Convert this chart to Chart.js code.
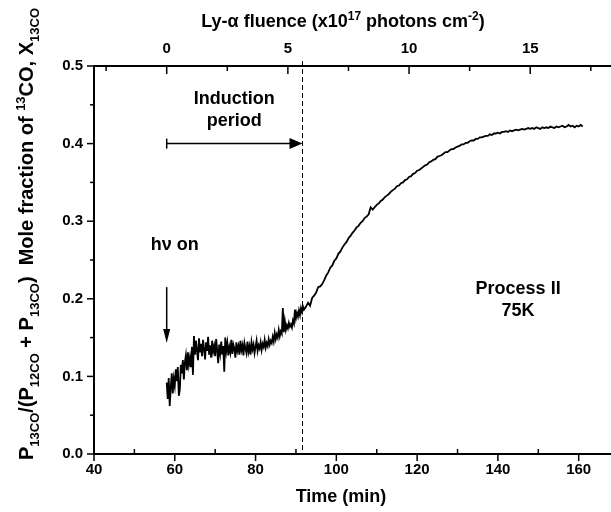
<!DOCTYPE html>
<html><head><meta charset="utf-8">
<script src="https://cdn.jsdelivr.net/npm/chart.js@4/dist/chart.umd.min.js"></script>
<style>html,body{margin:0;padding:0;background:#fff;}#wrap{width:611px;height:512px;}</style>
</head><body><div id="wrap"><canvas id="c" width="611" height="512"></canvas></div>
<script>
// ---- data ----
const timeMin = [
58,58.25,58.5,58.75,59,59.25,59.5,59.75,60,60.25,60.5,60.75,61,61.25,61.5,61.75,62,62.25,62.5,62.75,
63,63.25,63.5,63.75,64,64.25,64.5,64.75,65,65.25,65.5,65.75,66,66.25,66.5,66.75,67,67.25,67.5,67.75,
68,68.25,68.5,68.75,69,69.25,69.5,69.75,70,70.25,70.5,70.75,71,71.25,71.5,71.75,72,72.25,72.5,72.75,
73,73.25,73.5,73.75,74,74.25,74.5,74.75,75,75.25,75.5,75.75,76,76.25,76.5,76.75,77,77.25,77.5,77.75,
78,78.25,78.5,78.75,79,79.25,79.5,79.75,80,80.25,80.5,80.75,81,81.25,81.5,81.75,82,82.25,82.5,82.75,
83,83.25,83.5,83.75,84,84.25,84.5,84.75,85,85.25,85.5,85.75,86,86.25,86.5,86.75,87,87.25,87.5,87.75,
88,88.25,88.5,88.75,89,89.25,89.5,89.75,90,90.25,90.5,90.75,91,91.25,91.5,91.75,92,
92.5,93,93.5,94,94.5,95,95.5,96,96.5,97,97.5,98,98.5,99,99.5,100,100.5,101,101.5,102,
102.5,103,103.5,104,104.5,105,105.5,106,106.5,107,107.5,108,108.5,109,109.5,110,110.5,111,111.5,112,
112.5,113,113.5,114,114.5,115,115.5,116,116.5,117,117.5,118,118.5,119,119.5,120,120.5,121,121.5,122,
122.5,123,123.5,124,124.5,125,125.5,126,126.5,127,127.5,128,128.5,129,129.5,130,130.5,131,131.5,132,
132.5,133,133.5,134,134.5,135,135.5,136,136.5,137,137.5,138,138.5,139,139.5,140,140.5,141,141.5,142,
142.5,143,143.5,144,144.5,145,145.5,146,146.5,147,147.5,148,148.5,149,149.5,150,150.5,151,151.5,152,
152.5,153,153.5,154,154.5,155,155.5,156,156.5,157,157.5,158,158.5,159,159.5,160,160.5,161
];
const fraction13CO = [
0.092,0.071,0.098,0.062,0.085,0.104,0.078,0.097,0.088,0.109,0.094,0.112,0.075,0.083,0.115,0.104,0.121,0.096,0.118,0.127,
0.108,0.131,0.115,0.124,0.112,0.138,0.102,0.152,0.128,0.146,0.133,0.121,0.149,0.131,0.142,0.126,0.147,0.135,0.122,0.144,
0.133,0.151,0.128,0.140,0.124,0.146,0.132,0.139,0.126,0.148,0.134,0.117,0.141,0.130,0.145,0.128,0.139,0.106,0.150,0.133,
0.143,0.127,0.138,0.131,0.147,0.129,0.141,0.136,0.124,0.144,0.133,0.139,0.128,0.146,0.134,0.140,0.127,0.143,0.136,0.130,
0.145,0.132,0.139,0.128,0.144,0.135,0.141,0.130,0.138,0.146,0.133,0.140,0.136,0.144,0.134,0.142,0.138,0.147,0.137,0.143,
0.139,0.148,0.141,0.146,0.143,0.151,0.145,0.156,0.148,0.154,0.150,0.160,0.152,0.158,0.155,0.188,0.157,0.171,0.160,0.166,
0.162,0.169,0.164,0.167,0.163,0.172,0.168,0.186,0.175,0.182,0.177,0.185,0.179,0.188,0.183,0.190,0.186,
0.190,0.195,0.191,0.201,0.204,0.208,0.215,0.216,0.219,0.224,0.230,0.234,0.240,0.243,0.249,0.252,0.258,0.261,0.266,0.270,
0.273,0.278,0.281,0.285,0.288,0.292,0.294,0.298,0.300,0.304,0.306,0.309,0.318,0.315,0.318,0.321,0.323,0.326,0.328,0.331,
0.333,0.335,0.338,0.340,0.342,0.345,0.346,0.349,0.350,0.353,0.354,0.357,0.358,0.361,0.362,0.365,0.366,0.368,0.370,0.372,
0.373,0.376,0.377,0.379,0.380,0.383,0.384,0.385,0.387,0.389,0.389,0.391,0.393,0.393,0.395,0.396,0.397,0.399,0.399,0.401,
0.401,0.403,0.404,0.404,0.406,0.406,0.408,0.408,0.409,0.410,0.410,0.412,0.411,0.413,0.413,0.414,0.413,0.415,0.415,0.416,
0.415,0.417,0.416,0.417,0.418,0.417,0.418,0.419,0.418,0.419,0.420,0.419,0.420,0.419,0.421,0.420,0.419,0.421,0.420,0.421,
0.420,0.422,0.421,0.420,0.422,0.421,0.422,0.423,0.421,0.422,0.424,0.422,0.423,0.421,0.423,0.422,0.424,0.422
];
const timeTicks = [40,60,80,100,120,140,160];
const timeMinorTicks = [50,70,90,110,130,150];
const fluenceTicks = [0,5,10,15];
const fluenceMinorTicks = [-2.5,2.5,7.5,12.5,17.5];
const fractionTicks = [0,0.1,0.2,0.3,0.4,0.5];
const fractionMinorTicks = [0.05,0.15,0.25,0.35,0.45];
const hvOnTime = 58;            // fluence zero
const minPerFluenceUnit = 6;    // 5 fluence units = 30 min
const inductionEndTime = 91.5;
const inductionLevel = 0.40;

// ---- drawing ----
const FONT = "'Liberation Sans', Arial, Helvetica, sans-serif";
function fontFor(k, F){ return 'bold ' + (k === 'n' ? F : Math.round(F*0.66)) + 'px ' + FONT; }
function richWidth(ctx, segs, F){ let w = 0; for (const [t,k] of segs){ ctx.font = fontFor(k,F); w += ctx.measureText(t).width; } return w; }
function drawRich(ctx, segs, x, y, F){
  let cx = x - richWidth(ctx, segs, F)/2;
  ctx.textAlign = 'left'; ctx.textBaseline = 'alphabetic';
  for (const [t,k] of segs){
    ctx.font = fontFor(k,F);
    const dy = k === 'sub' ? F*0.30 : (k === 'sup' ? -F*0.40 : 0);
    ctx.fillText(t, cx, y + dy);
    cx += ctx.measureText(t).width;
  }
}
function seg(ctx,x1,y1,x2,y2){ ctx.beginPath(); ctx.moveTo(x1,y1); ctx.lineTo(x2,y2); ctx.stroke(); }

const overlay = {
  id: 'overlay',
  afterDraw(chart){
    const ctx = chart.ctx, xs = chart.scales.x, x2 = chart.scales.x2, ys = chart.scales.y, ca = chart.chartArea;
    ctx.save();
    ctx.strokeStyle = '#000'; ctx.fillStyle = '#000'; ctx.lineWidth = 1.5;
    // ticks
    for (const v of timeTicks){ const p = xs.getPixelForValue(v); seg(ctx,p,ca.bottom,p,ca.bottom+7); }
    for (const v of timeMinorTicks){ const p = xs.getPixelForValue(v); seg(ctx,p,ca.bottom,p,ca.bottom-5); }
    for (const v of fluenceTicks){ const p = x2.getPixelForValue(v); seg(ctx,p,ca.top,p,ca.top+8); }
    for (const v of fluenceMinorTicks){ const p = x2.getPixelForValue(v); seg(ctx,p,ca.top,p,ca.top+5); }
    for (const v of fractionTicks){ const p = ys.getPixelForValue(v); seg(ctx,ca.left-7,p,ca.left,p); }
    for (const v of fractionMinorTicks){ const p = ys.getPixelForValue(v); seg(ctx,ca.left-4,p,ca.left,p); }

    // dashed line at end of induction period
    const xd = Math.round(xs.getPixelForValue(inductionEndTime)) + 0.5;
    ctx.lineWidth = 1; ctx.setLineDash([5,3]);
    seg(ctx, xd, ca.top-5, xd, ca.bottom-2);
    ctx.setLineDash([]);

    // induction arrow
    const yi = ys.getPixelForValue(inductionLevel), xi0 = xs.getPixelForValue(hvOnTime);
    ctx.lineWidth = 1.5;
    seg(ctx, xi0, yi, xd-10, yi);
    seg(ctx, xi0, yi-5, xi0, yi+5);
    ctx.beginPath(); ctx.moveTo(xd, yi); ctx.lineTo(xd-13, yi-5.5); ctx.lineTo(xd-13, yi+5.5); ctx.closePath(); ctx.fill();

    // hv on arrow
    const xa = xs.getPixelForValue(hvOnTime), ya0 = ys.getPixelForValue(0.215), ya1 = ys.getPixelForValue(0.143);
    seg(ctx, xa, ya0, xa, ya1-10);
    ctx.beginPath(); ctx.moveTo(xa, ya1); ctx.lineTo(xa-3.5, ya1-14); ctx.lineTo(xa+3.5, ya1-14); ctx.closePath(); ctx.fill();

    // annotation texts
    ctx.textAlign = 'center'; ctx.textBaseline = 'alphabetic';
    ctx.font = 'bold 18px ' + FONT;
    ctx.fillText('h\u03bd on', xs.getPixelForValue(60), ys.getPixelForValue(0.263));
    ctx.fillText('Induction', xs.getPixelForValue(74.7), ys.getPixelForValue(0.451));
    ctx.fillText('period', xs.getPixelForValue(74.7), ys.getPixelForValue(0.423));
    ctx.fillText('Process II', xs.getPixelForValue(145), ys.getPixelForValue(0.206));
    ctx.fillText('75K', xs.getPixelForValue(145), ys.getPixelForValue(0.178));

    // axis titles
    ctx.font = 'bold 18px ' + FONT; ctx.textAlign = 'center';
    ctx.fillText('Time (min)', 341, 502);
    drawRich(ctx, [['Ly-\u03b1 fluence (x10','n'],['17','sup'],[' photons cm','n'],['-2','sup'],[')','n']], 343, 27, 18);

    ctx.save();
    ctx.translate(33, 234); ctx.rotate(-Math.PI/2);
    drawRich(ctx, [['P','n'],['13CO','sub'],['/(P','n'],['12CO','sub'],[' + P','n'],['13CO','sub'],[')  Mole fraction of ','n'],['13','sup'],['CO, X','n'],['13CO','sub']], 0, 0, 20);
    ctx.restore();
    ctx.restore();
  }
};

const tickFont = {family: FONT, size: 15, weight: 'bold'};
new Chart(document.getElementById('c'), {
  type: 'line',
  data: { datasets: [{
    data: timeMin.map((t,i) => ({x: t, y: fraction13CO[i]})),
    borderColor: '#000', borderWidth: 1.8, pointRadius: 0, tension: 0, fill: false
  }]},
  options: {
    responsive: false, animation: false, devicePixelRatio: 1,
    layout: { padding: 0 },
    plugins: { legend: {display: false}, tooltip: {enabled: false} },
    scales: {
      x: { type: 'linear', position: 'bottom', min: 40, max: 168,
        afterBuildTicks: s => { s.ticks = timeTicks.map(v => ({value: v})); },
        afterFit: s => { s.height = 58; },
        grid: {display: false, drawTicks: false},
        border: {display: true, color: '#000', width: 2},
        ticks: {color: '#000', font: tickFont, padding: 7, maxRotation: 0, autoSkip: false} },
      x2: { type: 'linear', position: 'top', display: true,
        min: (40 - hvOnTime)/minPerFluenceUnit, max: (168 - hvOnTime)/minPerFluenceUnit,
        afterBuildTicks: s => { s.ticks = fluenceTicks.map(v => ({value: v})); },
        afterFit: s => { s.height = 66; },
        grid: {display: false, drawTicks: false},
        border: {display: true, color: '#000', width: 2},
        ticks: {color: '#000', font: tickFont, padding: 8, maxRotation: 0, autoSkip: false} },
      y: { type: 'linear', position: 'left', min: 0, max: 0.5,
        afterBuildTicks: s => { s.ticks = fractionTicks.map(v => ({value: v})); },
        afterFit: s => { s.width = 94; },
        grid: {display: false, drawTicks: false},
        border: {display: true, color: '#000', width: 2},
        ticks: {color: '#000', font: tickFont, padding: 11, callback: v => Number(v).toFixed(1)} }
    }
  },
  plugins: [overlay]
});
</script></body></html>
